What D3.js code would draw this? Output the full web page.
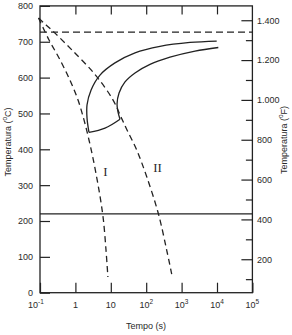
<!DOCTYPE html>
<html><head><meta charset="utf-8">
<script src="https://cdn.jsdelivr.net/npm/d3@7"></script>
<style>
html,body{margin:0;padding:0;background:#fff;}
text{font-family:"Liberation Sans",Arial,sans-serif;fill:#2a2a2a;}
</style></head>
<body><svg id="c" width="292" height="335"></svg>
<script>
// ---- data ----
const xTickExp = [-1, 0, 1, 2, 3, 4, 5];
const yTicksC = [0, 100, 200, 300, 400, 500, 600, 700, 800];
const yTicksF = [200, 400, 600, 800, 1000, 1200, 1400];
const yMinorF = [100, 300, 500, 700, 900, 1100, 1300];

const curveI_t = [0.091, 0.18, 0.37, 0.70, 1.18, 1.75, 2.42, 3.22, 4.13, 5.15, 6.18, 7.32, 8.28];
const curveI_T = [766, 705, 649, 593, 538, 482, 426, 370, 314, 259, 203, 119, 44];

const curveII_t = [0.091, 0.148, 0.265, 0.80, 3.70, 11.5, 19.4, 28.7, 53.9, 103, 220, 379, 525];
const curveII_T = [766, 747, 724, 677, 607, 538, 490, 454, 398, 324, 221, 119, 52];

const start_t = [9815, 1727, 245, 48.3, 13.1, 4.95, 2.76, 2.13, 2.13, 2.42];
const start_T = [702, 698, 687, 669, 641, 607, 565, 524, 487, 447];

const bottom_t = [2.42, 6.86, 18.2];
const bottom_T = [447, 459, 484];

const end_t = [18.2, 16.0, 15.0, 17.1, 25.2, 48.3, 128, 470, 2393, 10890];
const end_T = [484, 504, 526, 557, 588, 613, 637, 657, 674, 684];

const eutectoidT = 727;
const msT = 220;
const curveLabels = [{name: "I", t: 7.0, T: 325}, {name: "II", t: 210, T: 338}];

// ---- layout ----
const svg = d3.select("#c");
const L = 40, R = 252.4, B = 292.7, Tp = 5.9;
const x = d3.scaleLog().domain([0.1, 1e5]).range([L, R]);
const y = d3.scaleLinear().domain([0, 800]).range([B, Tp]);
const yF = d3.scaleLinear().domain([32, 800 * 9 / 5 + 32]).range([B, Tp]);
const ink = "#222";

const zip = (a, b) => a.map((v, i) => [v, b[i]]);
const line = d3.line().x(d => x(d[0])).y(d => y(d[1])).curve(d3.curveCatmullRom.alpha(0.5));

// frame
svg.append("rect").attr("x", L).attr("y", Tp).attr("width", R - L).attr("height", B - Tp)
  .attr("fill", "none").attr("stroke", ink).attr("stroke-width", 1.3);

// left axis
const gl = svg.append("g").attr("transform", `translate(${L},0)`)
  .call(d3.axisLeft(y).tickValues(yTicksC).tickSizeInner(-10).tickSizeOuter(0).tickPadding(7));
gl.select(".domain").remove();
gl.selectAll("line").attr("stroke", ink).attr("stroke-width", 1.2);
gl.selectAll("text").attr("font-size", 9).style("font-family", "Liberation Sans, Arial, sans-serif").attr("fill", "#2a2a2a");

// right axis
const loc = d3.formatLocale({decimal: ",", thousands: ".", grouping: [3], currency: ["", ""]});
const gr = svg.append("g").attr("transform", `translate(${R},0)`)
  .call(d3.axisRight(yF).tickValues(yTicksF).tickSizeInner(-11).tickSizeOuter(0).tickPadding(4.5).tickFormat(loc.format(",")));
gr.select(".domain").remove();
gr.selectAll("line").attr("stroke", ink).attr("stroke-width", 1.2);
gr.selectAll("text").attr("font-size", 9).style("font-family", "Liberation Sans, Arial, sans-serif").attr("fill", "#2a2a2a");
const grm = svg.append("g").attr("transform", `translate(${R},0)`)
  .call(d3.axisRight(yF).tickValues(yMinorF).tickSizeInner(-6.5).tickSizeOuter(0).tickFormat(""));
grm.select(".domain").remove();
grm.selectAll("line").attr("stroke", ink).attr("stroke-width", 1.2);

// bottom axis
const xTicks = xTickExp.map(e => Math.pow(10, e));
const gb = svg.append("g").attr("transform", `translate(0,${B})`)
  .call(d3.axisBottom(x).tickValues(xTicks).tickSizeInner(-10).tickSizeOuter(0).tickFormat(""));
gb.select(".domain").remove();
gb.selectAll("line").attr("stroke", ink).attr("stroke-width", 1.2);
// top axis ticks
const gt = svg.append("g").attr("transform", `translate(0,${Tp})`)
  .call(d3.axisTop(x).tickValues(xTicks.slice(1, -1)).tickSizeInner(-8.5).tickSizeOuter(0).tickFormat(""));
gt.select(".domain").remove();
gt.selectAll("line").attr("stroke", ink).attr("stroke-width", 1.2);

// bottom tick labels with superscripts
xTickExp.forEach(e => {
  const t = svg.append("text").attr("x", x(Math.pow(10, e)) + (e === -1 ? -4 : 0)).attr("y", 307.5)
    .attr("text-anchor", "middle").attr("font-size", 9);
  if (e === 0) { t.text("1"); return; }
  if (e === 1) { t.text("10"); return; }
  t.append("tspan").text("10");
  t.append("tspan").attr("dy", -4).attr("font-size", 6.5).text(String(e));
});

// axis titles
svg.append("text").attr("x", 146).attr("y", 329).attr("text-anchor", "middle").attr("font-size", 9).text("Tempo (s)");
function vTitle(cx, cy, unit) {
  const t = svg.append("text").attr("transform", `translate(${cx},${cy}) rotate(-90)`)
    .attr("text-anchor", "middle").attr("font-size", 9);
  t.append("tspan").text("Temperatura (");
  t.append("tspan").attr("dy", -3.5).attr("font-size", 6.5).text("o");
  t.append("tspan").attr("dy", 3.5).text(unit + ")");
}
vTitle(10.5, 142, "C");
vTitle(286.5, 140, "F");

// reference lines
svg.append("line").attr("x1", L).attr("x2", R).attr("y1", y(eutectoidT)).attr("y2", y(eutectoidT))
  .attr("stroke", ink).attr("stroke-width", 1.2).attr("stroke-dasharray", "7,4");
svg.append("line").attr("x1", L).attr("x2", R).attr("y1", y(msT)).attr("y2", y(msT))
  .attr("stroke", ink).attr("stroke-width", 1.2);

// transformation curves (solid)
[zip(start_t, start_T), zip(bottom_t, bottom_T), zip(end_t, end_T)].forEach(d => {
  svg.append("path").attr("d", line(d)).attr("fill", "none").attr("stroke", ink).attr("stroke-width", 1.3);
});

// cooling curves (dashed)
[zip(curveI_t, curveI_T), zip(curveII_t, curveII_T)].forEach(d => {
  svg.append("path").attr("d", line(d)).attr("fill", "none").attr("stroke", ink)
    .attr("stroke-width", 1.3).attr("stroke-dasharray", "6,4");
});

// curve labels
curveLabels.forEach(c => {
  svg.append("text").attr("x", x(c.t)).attr("y", y(c.T)).attr("text-anchor", "middle")
    .style("font-family", "Liberation Serif, Times New Roman, serif").attr("font-size", 13).text(c.name);
});
</script></body></html>
